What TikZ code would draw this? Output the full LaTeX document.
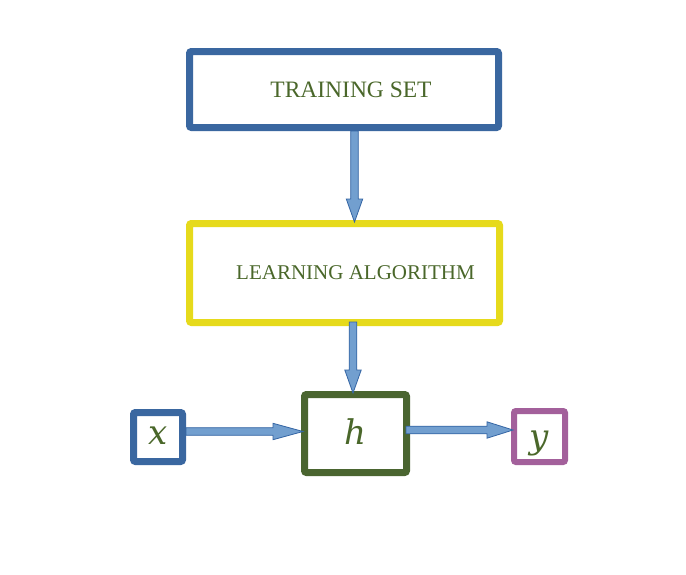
\documentclass[tikz,border=0pt]{standalone}
\usepackage{fontspec}
\setmainfont{Liberation Serif}
\newfontfamily\varfont{DejaVu Serif}
\usetikzlibrary{calc}

\definecolor{boxblue}{HTML}{3A67A0}
\definecolor{boxyellow}{HTML}{E6DA1C}
\definecolor{boxgreen}{HTML}{4A6530}
\definecolor{boxpurple}{HTML}{A3609B}
\definecolor{labelgreen}{HTML}{4A672A}
\definecolor{arrowfill}{HTML}{729FCF}
\definecolor{arrowline}{HTML}{3465A4}

% a letter set on a baseline #1 below the node centre
\newcommand\dropletter[2]{\smash{\raisebox{-#1}{#2}}}

\tikzset{
  framebox/.style={draw, line width=7pt, rounded corners=2pt, fill=white,
    inner sep=0pt, text=labelgreen},
  capslabel/.style={font=\fontsize{#1}{#1}\selectfont},
  varlabel/.style={font=\varfont\itshape\fontsize{34}{34}\selectfont},
  blockarrow/.style={fill=arrowfill, draw=arrowline, line width=0.8pt, line join=miter}
}

% block arrow from #1 to #2 with a head of length #3
\newcommand\blockarrow[3]{%
  \path[blockarrow] let \p1=(#1), \p2=(#2),
      \n1={atan2(\y2-\y1,\x2-\x1)}, \p3=($(#2)!#3!(#1)$) in
    ($(\p1)+(\n1+90:3.8pt)$) -- ($(\p3)+(\n1+90:3.8pt)$) --
    ($(\p3)+(\n1+90:8.2pt)$) -- (\p2) -- ($(\p3)+(\n1-90:8.2pt)$) --
    ($(\p3)+(\n1-90:3.8pt)$) -- ($(\p1)+(\n1-90:3.8pt)$) -- cycle;}

\begin{document}
\begin{tikzpicture}[x=1pt,y=-1pt]
  \useasboundingbox[fill=white] (0,0) rectangle (686,574);

  % boxes
  \node[framebox, draw=boxblue, minimum width=309pt, minimum height=76pt,
        capslabel=23.5] (ts) at (344,89.5) {\hspace*{14pt}TRAINING SET};
  \node[framebox, draw=boxyellow, minimum width=310pt, minimum height=99pt,
        capslabel=21] (la) at (344.5,273) {\hspace*{22pt}LEARNING ALGORITHM};
  \node[framebox, draw=boxgreen, minimum width=102pt, minimum height=78pt,
        varlabel] (h) at (355.5,433.5) {\dropletter{10.5pt}{h}};
  \node[framebox, draw=boxblue, minimum width=49pt, minimum height=49pt,
        varlabel] (xb) at (158,437) {\dropletter{7pt}{x}};
  \node[framebox, draw=boxpurple, line width=6pt, minimum width=51pt,
        minimum height=51pt, varlabel] (yb) at (539.5,436.5) {\dropletter{12pt}{y}};

  % connectors
  \coordinate (a1s) at ($(ts.south)+(10.5,0)$);
  \coordinate (a1e) at ($(a1s |- la.north)+(0,2)$);
  \coordinate (a2s) at ($(la.south)+(8.5,-4)$);
  \coordinate (a2e) at ($(a2s |- h.north)+(0,2)$);
  \coordinate (a3s) at ($(xb.east)+(0,-5.5)$);
  \coordinate (a3e) at ($(a3s -| h.west)+(2,0)$);
  \coordinate (a4s) at ($(h.east)+(-4,-3.5)$);
  \coordinate (a4e) at ($(a4s -| yb.west)+(2,0)$);

  \blockarrow{a1s}{a1e}{23pt}
  \blockarrow{a2s}{a2e}{23pt}
  \blockarrow{a3s}{a3e}{30pt}
  \blockarrow{a4s}{a4e}{26pt}
\end{tikzpicture}
\end{document}
